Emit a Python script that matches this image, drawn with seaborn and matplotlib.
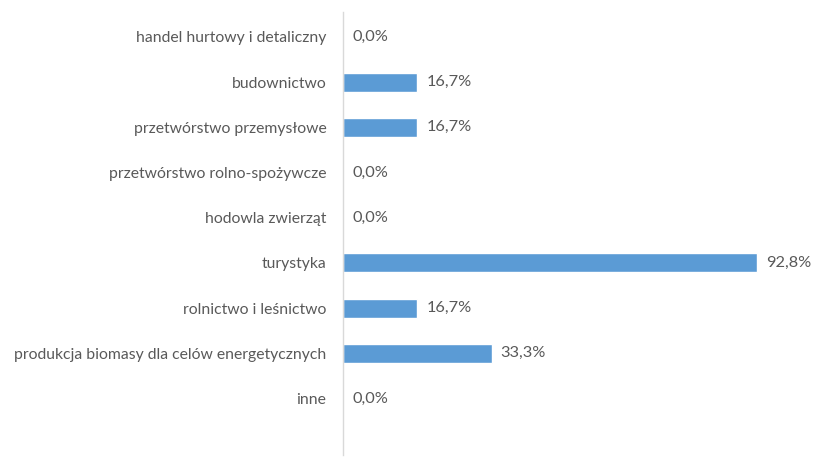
import matplotlib
matplotlib.use("Agg")
import matplotlib.pyplot as plt
import seaborn as sns
import pandas as pd

categories = [
    "handel hurtowy i detaliczny",
    "budownictwo",
    "przetwórstwo przemysłowe",
    "przetwórstwo rolno-spożywcze",
    "hodowla zwierząt",
    "turystyka",
    "rolnictwo i leśnictwo",
    "produkcja biomasy dla celów energetycznych",
    "inne",
]
values = [0.0, 16.7, 16.7, 0.0, 0.0, 92.8, 16.7, 33.3, 0.0]

df = pd.DataFrame({"kategoria": categories, "wartosc": values})

sns.set_style("white")
plt.rcParams["font.family"] = ["Lato", "DejaVu Sans"]
grey = "#595959"

fig = plt.figure(figsize=(8.16, 4.59), dpi=100)
ax = fig.add_axes([343 / 816, 4 / 459, 446 / 816, 443 / 459])

sns.barplot(data=df, y="kategoria", x="wartosc", orient="h", color="#5B9BD5",
            width=0.42, saturation=1, ax=ax)

ax.set_xlim(0, 100)
ax.set_ylim(len(categories) - 1 + 1.25, -0.55)
ax.set_xlabel("")
ax.set_ylabel("")
ax.set_xticks([])
for s in ["top", "right", "bottom"]:
    ax.spines[s].set_visible(False)
ax.spines["left"].set_color("#D9D9D9")
ax.spines["left"].set_linewidth(1)
ax.tick_params(axis="y", length=0, pad=12, labelsize=11.3, labelcolor=grey)

for i, v in enumerate(values):
    ax.annotate(f"{v:.1f}%".replace(".", ","), (v, i), xytext=(6.5, 0),
                textcoords="offset points", va="center", ha="left",
                fontsize=11.8, color=grey)

fig.savefig("out.png", dpi=100)
